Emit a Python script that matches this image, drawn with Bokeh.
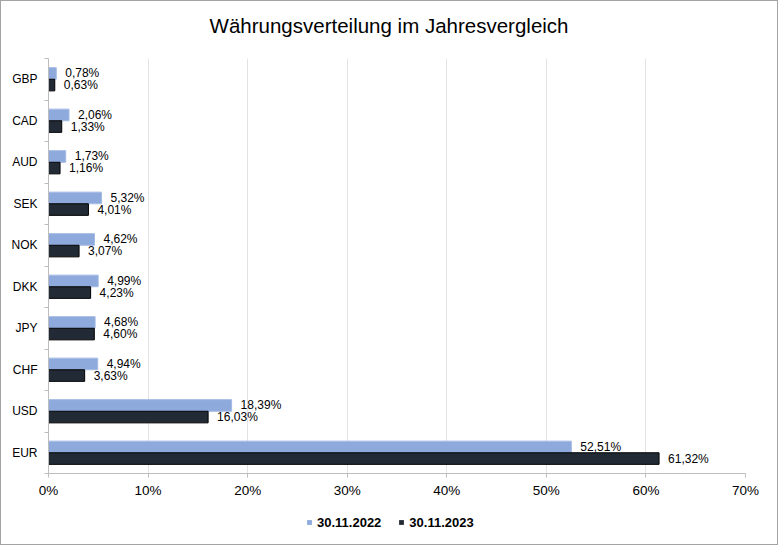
from bokeh.plotting import figure
from bokeh.layouts import column
from bokeh.models import (ColumnDataSource, FixedTicker, Legend, LegendItem, Label,
                          Range1d, PrintfTickFormatter, CustomJSTickFormatter)
from bokeh.embed import file_html
from bokeh.resources import INLINE
from bokeh.core.properties import value

# ---- data (top to bottom as in the chart) ----
currencies = ["GBP", "CAD", "AUD", "SEK", "NOK", "DKK", "JPY", "CHF", "USD", "EUR"]
share_2022 = [0.78, 2.06, 1.73, 5.32, 4.62, 4.99, 4.68, 4.94, 18.39, 52.51]
share_2023 = [0.63, 1.33, 1.16, 4.01, 3.07, 4.23, 4.60, 3.63, 16.03, 61.32]
x_ticks = [0, 10, 20, 30, 40, 50, 60, 70]
series_names = ["30.11.2022", "30.11.2023"]
title_text = "Währungsverteilung im Jahresvergleich"

FONT = "Liberation Sans"
LIGHT = "#8EA9DB"
DARK = "#222A35"
BAR_H = 0.28
W = 776

n = len(currencies)
centers = [n - 1 - i + 0.5 for i in range(n)]   # GBP on top, EUR at bottom
names_bottom_up = list(reversed(currencies))


def fmt(v):
    return f"{v:.2f}".replace(".", ",") + "%"


src22 = ColumnDataSource(dict(y=[c + BAR_H / 2 for c in centers], right=share_2022,
                              label=[fmt(v) for v in share_2022]))
src23 = ColumnDataSource(dict(y=[c - BAR_H / 2 for c in centers], right=share_2023,
                              label=[fmt(v) for v in share_2023]))

x_range = Range1d(0, 70)

# ---- title strip ----
pt = figure(width=W, height=57, x_range=x_range, y_range=Range1d(0, 1),
            output_backend="svg", toolbar_location=None,
            x_axis_location=None, y_axis_location=None,
            min_border_left=47, min_border_right=32, min_border_top=0, min_border_bottom=0)
pt.outline_line_color = None
pt.xgrid.visible = False
pt.ygrid.visible = False
pt.add_layout(Label(x=34.2, y=0.58, text=title_text, text_align="center",
                    text_baseline="alphabetic", text_font=FONT,
                    text_font_size="20.5px", text_color="#000000"))

# ---- main chart ----
p = figure(width=W, height=442, x_range=x_range, y_range=Range1d(0, n),
           output_backend="svg", toolbar_location=None,
           min_border_left=47, min_border_right=32, min_border_top=0, min_border_bottom=27)
p.outline_line_color = None
p.background_fill_color = "white"
p.border_fill_color = "white"

p.hbar(y="y", right="right", left=0, height=BAR_H, source=src22,
       fill_color=LIGHT, line_color="#A4BBE4", line_width=1)
p.hbar(y="y", right="right", left=0, height=BAR_H, source=src23,
       fill_color=DARK, line_color="#000000", line_width=1)

for s in (src22, src23):
    p.text(x="right", y="y", text="label", source=s, x_offset=9,
           text_baseline="middle", text_align="left",
           text_font=value(FONT), text_font_size=value("12px"), text_color="#000000")

# x axis
p.xaxis.ticker = FixedTicker(ticks=x_ticks, minor_ticks=[])
p.xaxis.formatter = PrintfTickFormatter(format="%d%%")
p.xaxis.axis_line_color = "#BDBDBD"
p.xaxis.major_tick_line_color = "#BDBDBD"
p.xaxis.major_tick_in = 0
p.xaxis.major_tick_out = 4
p.xaxis.minor_tick_line_color = None
p.xaxis.major_label_text_font = FONT
p.xaxis.major_label_text_font_size = "13.5px"
p.xaxis.major_label_text_color = "#000000"
p.xaxis.major_label_standoff = 5

# y axis: labels at category centres, ticks at category boundaries
p.yaxis.ticker = FixedTicker(ticks=centers, minor_ticks=list(range(n + 1)))
p.yaxis.formatter = CustomJSTickFormatter(args=dict(names=names_bottom_up),
                                          code="return names[Math.floor(tick)];")
p.yaxis.axis_line_color = "#BDBDBD"
p.yaxis.major_tick_line_color = None
p.yaxis.major_tick_in = 0
p.yaxis.major_tick_out = 0
p.yaxis.minor_tick_line_color = "#BDBDBD"
p.yaxis.minor_tick_in = 0
p.yaxis.minor_tick_out = 4
p.yaxis.major_label_text_font = FONT
p.yaxis.major_label_text_font_size = "12px"
p.yaxis.major_label_text_color = "#000000"
p.yaxis.major_label_standoff = 7

p.xgrid.ticker = FixedTicker(ticks=x_ticks)
p.xgrid.grid_line_color = "#E3E3E3"
p.ygrid.grid_line_color = None

# ---- legend strip underneath (series drawn far out of view, only the keys show) ----
pl = figure(width=W, height=44, x_range=x_range, y_range=Range1d(1000, 1001),
            output_backend="svg", toolbar_location=None,
            x_axis_location=None, y_axis_location=None,
            min_border_left=47, min_border_right=32, min_border_top=0, min_border_bottom=0)
pl.outline_line_color = None
pl.xgrid.visible = False
pl.ygrid.visible = False
k22 = pl.hbar(y="y", right="right", left=0, height=BAR_H, source=src22,
              fill_color=LIGHT, line_color=None)
k23 = pl.hbar(y="y", right="right", left=0, height=BAR_H, source=src23,
              fill_color=DARK, line_color=None)

legend = Legend(items=[LegendItem(label=series_names[0], renderers=[k22]),
                       LegendItem(label=series_names[1], renderers=[k23])],
                orientation="horizontal", location=(258, 12),
                glyph_width=6, glyph_height=6, label_standoff=5, spacing=17,
                padding=0, margin=0, border_line_color=None, background_fill_alpha=0,
                label_text_font=FONT, label_text_font_size="13px",
                label_text_font_style="bold", label_text_color="#000000",
                label_height=20)
pl.add_layout(legend, "center")

layout = column(pt, p, pl, spacing=0, styles={"border": "1px solid #A3A3A3"})
open("out.html", "w").write(file_html(layout, INLINE))
